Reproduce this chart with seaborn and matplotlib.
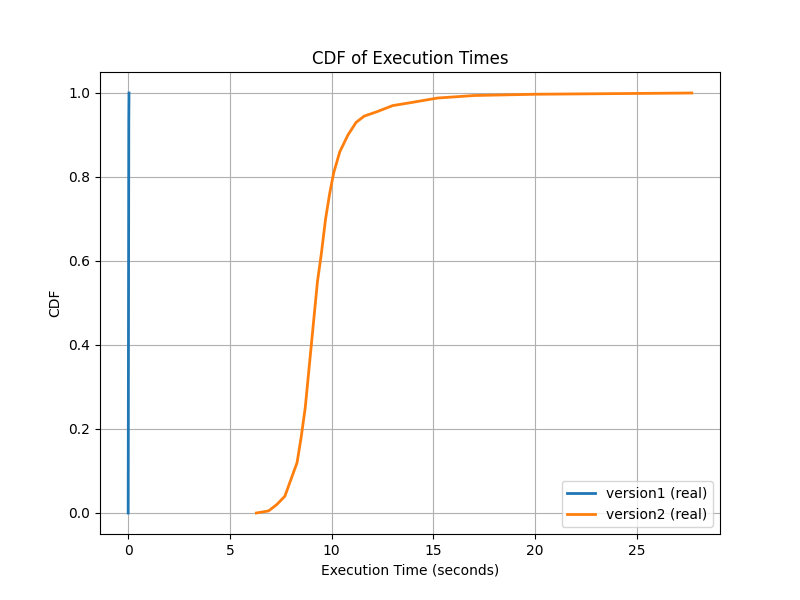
import matplotlib
matplotlib.use("Agg")
import matplotlib.pyplot as plt
import seaborn as sns
import pandas as pd

# CDF points
v1_time = [0.0, 0.01, 0.02, 0.03, 0.04]
v1_cdf = [0.0, 0.3, 0.6, 0.93, 1.0]

v2_time = [6.3, 6.9, 7.3, 7.7, 8.0, 8.3, 8.5, 8.7, 8.9, 9.1, 9.3, 9.5, 9.7,
           9.9, 10.1, 10.4, 10.8, 11.2, 11.6, 12.2, 13.0, 14.0, 15.2, 17.0,
           20.0, 27.7]
v2_cdf = [0.0, 0.005, 0.02, 0.04, 0.08, 0.12, 0.18, 0.25, 0.35, 0.45, 0.55,
          0.62, 0.70, 0.76, 0.81, 0.86, 0.90, 0.93, 0.945, 0.955, 0.97, 0.978,
          0.988, 0.994, 0.997, 1.0]

df = pd.concat([
    pd.DataFrame({"time": v1_time, "cdf": v1_cdf, "label": "version1 (real)"}),
    pd.DataFrame({"time": v2_time, "cdf": v2_cdf, "label": "version2 (real)"}),
])

fig, ax = plt.subplots(figsize=(8, 6), dpi=100)
sns.lineplot(data=df, x="time", y="cdf", hue="label", estimator=None,
             sort=False, linewidth=2, palette=["#1f77b4", "#ff7f0e"], ax=ax)
ax.set_title("CDF of Execution Times")
ax.set_xlabel("Execution Time (seconds)")
ax.set_ylabel("CDF")
ax.grid(True)
ax.legend(title=None, loc="lower right")
fig.savefig("out.png")
